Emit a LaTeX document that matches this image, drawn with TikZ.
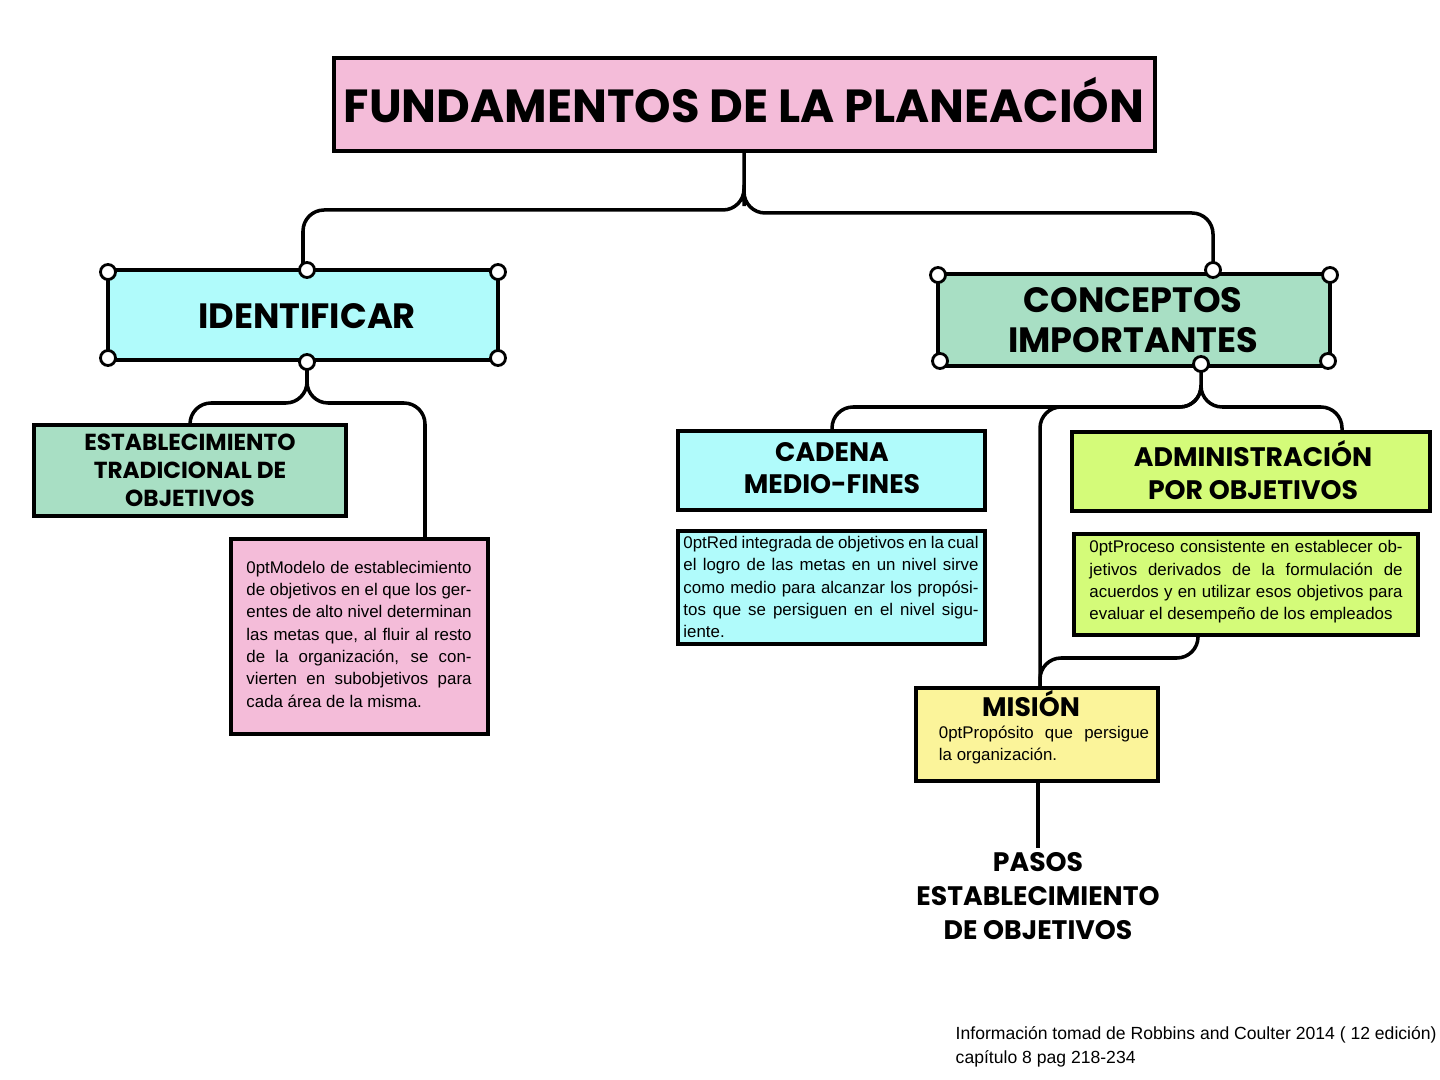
\documentclass[tikz,border=0pt]{standalone}
\usepackage{fontspec}
\setmainfont{Liberation Sans}
\newfontfamily\headfont{Poppins}
\usetikzlibrary{positioning}
\definecolor{pinkbox}{HTML}{F4BCD9}
\definecolor{cyanbox}{HTML}{B0FBFB}
\definecolor{greenbox}{HTML}{A8DFC4}
\definecolor{limebox}{HTML}{D4FB79}
\definecolor{yellowbox}{HTML}{FBF49A}
\tikzset{
  box/.style={draw, line width=1.3pt, inner sep=0pt},
  head/.style={font=\headfont\bfseries\fontsize{10}{12}\selectfont, align=center},
  subhead/.style={font=\headfont\bfseries\fontsize{6.6}{8}\selectfont, align=center},
  bodytext/.style={font=\fontsize{4.8}{6.35}\selectfont\hyphenpenalty=10000\exhyphenpenalty=10000, align=justify, inner sep=0pt},
  link/.style={line width=1pt, rounded corners=6pt},
  handle/.style={circle, draw, fill=white, line width=0.8pt, minimum size=0.15cm, inner sep=0pt}
}
\begin{document}
\begin{tikzpicture}[x=0.01cm, y=-0.01cm]
\useasboundingbox (0,0) rectangle (1440,1080);
% boxes
\draw[box, fill=pinkbox] (334,58) rectangle (1155,151);
\node (title) at (744,100) {\resizebox{8cm}{!}{\headfont\bfseries FUNDAMENTOS DE LA PLANEACIÓN}};
\draw[box, fill=cyanbox] (108,270) rectangle (498,360);
\node[head] (ident) at (307,316) {IDENTIFICAR};
\draw[box, fill=greenbox] (938,274) rectangle (1330,366);
\node[head, font=\headfont\bfseries\fontsize{10}{11.5}\selectfont] (conc) at (1133,320) {CONCEPTOS\\IMPORTANTES};
\draw[box, fill=greenbox] (34,425) rectangle (346,516);
\node[subhead] (trad) at (190,470) {ESTABLECIMIENTO\\TRADICIONAL DE\\OBJETIVOS};
\draw[box, fill=pinkbox] (231,539) rectangle (488,734);
\node[bodytext, text width=2.25cm] (tradtxt) at (359,634) {Modelo de establecimiento de objetivos en el que los gerentes de alto nivel determinan las metas que, al fluir al resto de la organización, se convierten en subobjetivos para cada área de la misma.};
\draw[box, fill=cyanbox] (678,431) rectangle (985,510);
\node[subhead, font=\headfont\bfseries\fontsize{7.6}{9.2}\selectfont] (cadena) at (832,468) {CADENA\\MEDIO-FINES};
\draw[box, fill=cyanbox] (678,531) rectangle (985,644);
\node[bodytext, text width=2.95cm] (cadtxt) at (831,587) {Red integrada de objetivos en la cual el logro de las metas en un nivel sirve como medio para alcanzar los propósitos que se persiguen en el nivel siguiente.};
\draw[box, fill=limebox] (1072,432) rectangle (1430,511);
\node[subhead, font=\headfont\bfseries\fontsize{7.6}{9.2}\selectfont] (admin) at (1253,470) {ADMINISTRACIÓN\\POR OBJETIVOS};
\draw[box, fill=limebox] (1074,534) rectangle (1418,635);
\node[bodytext, text width=3.13cm] (admtxt) at (1246,582) {Proceso consistente en establecer objetivos derivados de la formulación de acuerdos y en utilizar esos objetivos para evaluar el desempeño de los empleados};
\draw[box, fill=yellowbox] (916,688) rectangle (1158,781);
\node[subhead, font=\headfont\bfseries\fontsize{7.6}{9.2}\selectfont] (mision) at (1031,704) {MISIÓN};
\node[bodytext, text width=2.1cm] (mistxt) at (1044,745) {Propósito que persigue la organización.};
\node[subhead, font=\headfont\bfseries\fontsize{7.6}{9.6}\selectfont] (pasos) at (1038,896) {PASOS\\ESTABLECIMIENTO\\DE OBJETIVOS};
\node[font=\fontsize{5}{6.8}\selectfont, align=left, anchor=north west, inner sep=0pt] (fuente) at (955,1026) {Información tomad de Robbins and Coulter 2014 ( 12 edición)\\capítulo 8 pag 218-234};
% connectors
\draw[link] (744,151) -- (744,185) -- (744,210) -- (303,210) -- (303,270);
\draw[link] (744,185) -- (744,213) -- (1213,213) -- (1213,274);
\draw[link] (307,360) -- (307,403) -- (190,403) -- (190,425);
\draw[link] (307,380) -- (307,403) -- (425,403) -- (425,539);
\draw[link] (1201,366) -- (1201,407) -- (832,407) -- (832,431);
\draw[link] (1201,385) -- (1201,407) -- (1040,407) -- (1040,688);
\draw[link] (1201,385) -- (1201,407) -- (1342,407) -- (1342,432);
\draw[link] (1198,635) -- (1198,658) -- (1040,658) -- (1040,688);
\draw[link] (1038,781) -- (1038,848);
% handles
\foreach \p in {(108,272),(307,270),(498,272),(108,358),(307,362),(498,358),
                (938,275),(1213,270),(1330,275),(940,361),(1201,364),(1328,361)}
  \node[handle] at \p {};
\end{tikzpicture}
\end{document}
